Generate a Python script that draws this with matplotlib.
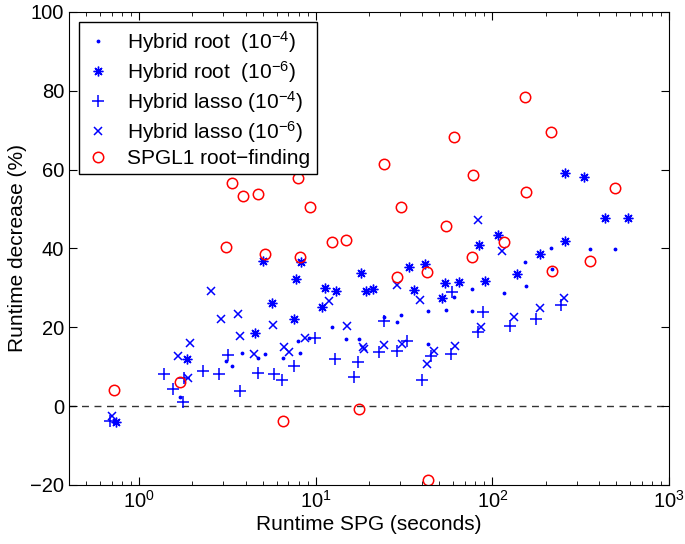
import numpy as np
import matplotlib
matplotlib.use('Agg')
import matplotlib.pyplot as plt

plt.rcParams['font.family'] = ['Liberation Sans', 'DejaVu Sans']
plt.rcParams['mathtext.fontset'] = 'custom'
plt.rcParams['mathtext.rm'] = 'Liberation Sans'
plt.rcParams['mathtext.it'] = 'Liberation Sans:italic'

# Hybrid root (1e-4)
root4_x = [0.72, 1.71, 3.08, 3.36, 3.81, 4.69, 5.16, 6.55, 7.89, 8.17, 9.2, 12.4, 14.8, 17.5, 24.4,
           29.0, 30.3, 43.2, 43.2, 54.4, 60.6, 76.9, 76.9, 116, 152, 156, 216, 218, 359, 492]
root4_y = [-4.0, 2.3, 11.5, 10.2, 13.6, 12.1, 13.2, 12.3, 16.5, 13.4, 17.2, 20.0, 17.0, 17.0, 22.7,
           21.3, 23.0, 24.2, 15.7, 24.4, 27.8, 29.7, 24.2, 28.8, 36.5, 30.5, 40.0, 34.9, 39.8, 39.9]

# Hybrid root (1e-6)
root6_x = [0.74, 1.87, 4.53, 5.0, 5.63, 7.56, 7.73, 8.25, 10.8, 11.2, 13.0, 18.0, 19.2, 21.2, 33.8,
           36.0, 41.6, 52.1, 53.9, 64.7, 83.9, 90.7, 108, 138, 185, 257, 259, 329, 436, 583]
root6_y = [-4.1, 12.0, 18.5, 36.9, 26.1, 22.1, 32.2, 36.5, 25.1, 29.9, 29.2, 33.9, 29.3, 29.7, 35.2,
           29.5, 36.1, 27.5, 31.2, 31.4, 40.8, 31.8, 43.3, 33.5, 38.7, 59.1, 41.8, 58.2, 47.7, 47.7]

# Hybrid lasso (1e-4)
lasso4_x = [0.68, 1.38, 1.55, 1.77, 1.80, 2.29, 2.82, 3.2, 3.74, 4.69, 5.83, 6.44, 7.56, 9.94, 12.8,
            16.5, 17.4, 22.8, 24.2, 28.7, 33.0, 40.1, 45.1, 58.5, 59.3, 83.1, 88.7, 126, 177, 246]
lasso4_y = [-3.8, 8.1, 4.4, 1.1, 7.2, 8.8, 8.2, 13.0, 3.9, 8.3, 8.2, 6.6, 10.2, 17.2, 12.0,
            7.5, 11.3, 13.7, 21.6, 14.0, 16.4, 6.6, 12.7, 13.2, 28.9, 18.7, 24.0, 20.3, 22.0, 25.6]

# Hybrid lasso (1e-6)
lasso6_x = [0.70, 1.66, 1.88, 1.95, 2.54, 2.91, 3.61, 3.74, 4.45, 5.75, 6.64, 7.02, 8.73, 11.8, 15.0,
            18.4, 18.8, 24.2, 28.7, 30.9, 38.8, 42.5, 46.7, 61.1, 83.1, 86.4, 114, 132, 185, 255]
lasso6_y = [-2.5, 12.8, 7.1, 16.0, 29.3, 22.0, 23.4, 17.9, 13.2, 20.7, 15.1, 13.7, 17.4, 26.7, 20.3,
            15.1, 14.6, 15.5, 30.8, 15.7, 26.9, 10.7, 14.0, 15.3, 47.1, 20.2, 39.4, 22.5, 24.8, 27.5]

# SPGL1 root-finding
spgl1_x = [0.72, 1.71, 3.08, 3.36, 3.85, 4.69, 5.16, 6.49, 7.89, 8.17, 9.27, 12.4, 14.8, 17.5, 24.4,
           29.0, 30.4, 42.8, 43.2, 54.4, 60.9, 76.3, 77.6, 116, 152, 156, 215, 218, 359, 492]
spgl1_y = [4.0, 6.2, 40.5, 56.5, 53.2, 53.8, 38.7, -3.7, 58.0, 37.8, 50.5, 41.7, 42.2, -0.8, 61.4,
           32.7, 50.5, 34.1, -18.7, 45.7, 68.4, 37.9, 58.7, 41.6, 78.4, 54.4, 69.6, 34.4, 36.7, 55.4]

fig = plt.figure(figsize=(6.85, 5.44), dpi=100)
ax = fig.add_axes([0.1007, 0.1085, 0.8759, 0.8695])

ax.axhline(0, color='#333333', linestyle=(0, (5, 4)), linewidth=1, zorder=1)

ax.plot(root4_x, root4_y, '.', color='b', markersize=3.5, label=r'Hybrid root  (10$^{-4}$)')
ax.plot(root6_x, root6_y, linestyle='none', marker=(8, 2, 0), color='b', markersize=7,
        markeredgewidth=1.0, label=r'Hybrid root  (10$^{-6}$)')
ax.plot(lasso4_x, lasso4_y, '+', color='b', markersize=9, markeredgewidth=1.1,
        label=r'Hybrid lasso (10$^{-4}$)')
ax.plot(lasso6_x, lasso6_y, 'x', color='b', markersize=6, markeredgewidth=1.1,
        label=r'Hybrid lasso (10$^{-6}$)')
ax.plot(spgl1_x, spgl1_y, 'o', color='r', markerfacecolor='none', markersize=7.5,
        markeredgewidth=1.1, label='SPGL1 root\u2212finding')

ax.set_xscale('log')
ax.set_xlim(0.4, 1000)
ax.set_ylim(-20, 100)
ax.set_yticks(np.arange(-20, 101, 20))

ax.tick_params(which='both', direction='in', top=True, right=True, labelsize=14.5)
ax.tick_params(which='major', length=6)
ax.tick_params(which='minor', length=3)

ax.set_xlabel('Runtime SPG (seconds)', fontsize=15, labelpad=2)
ax.set_ylabel('Runtime decrease (%)', fontsize=15, labelpad=2)

leg = ax.legend(loc='upper left', fontsize=15, fancybox=False, framealpha=1,
                edgecolor='k', handlelength=1.2, handletextpad=0.8, borderpad=0.3,
                labelspacing=0.2, borderaxespad=0.5)
leg.get_frame().set_linewidth(1)

fig.savefig('out.png', dpi=100)
